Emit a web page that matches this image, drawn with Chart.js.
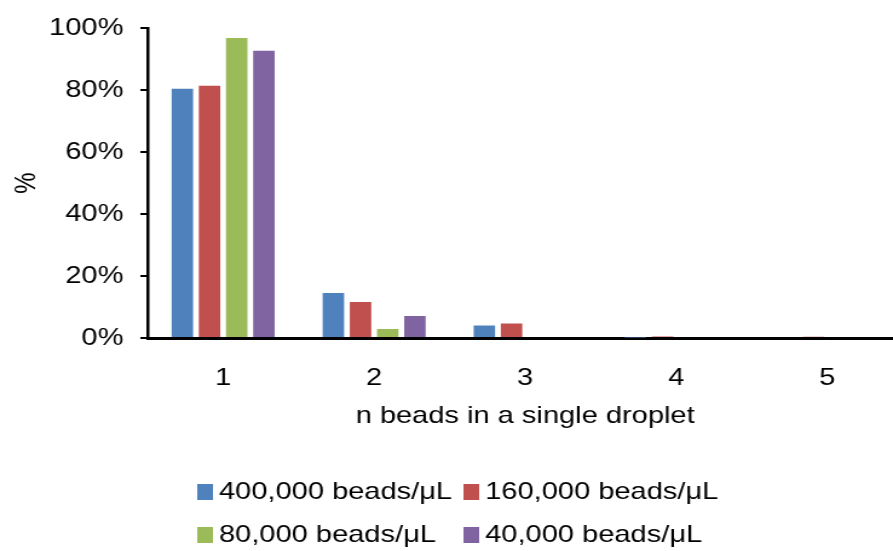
<!DOCTYPE html>
<html>
<head>
<meta charset="utf-8">
<script src="https://cdn.jsdelivr.net/npm/chart.js@4.4.1/dist/chart.umd.min.js"></script>
<style>
  html, body { margin: 0; padding: 0; background: #fff; }
  #wrap { width: 893px; height: 551px; overflow: hidden; position: relative; }
  /* the source picture is stretched sideways, so the canvas is too */
  #chart { position: absolute; left: 0; top: 0; transform: scaleX(1.21); transform-origin: 0 0; }
</style>
</head>
<body>
<div id="wrap"><canvas id="chart" width="746" height="551"></canvas></div>
<script>
const categories = ["1", "2", "3", "4", "5"];
const seriesLabels = ["400,000 beads/μL", "160,000 beads/μL", "80,000 beads/μL", "40,000 beads/μL"];
const seriesColors = ["#4F81BD", "#C0504D", "#9BBB59", "#8064A2"];
const beads400k = [80.5, 14.5, 4.0, 0.2, 0];
const beads160k = [81.5, 11.6, 4.7, 0.5, 0.4];
const beads80k  = [96.9, 2.9, 0, 0, 0];
const beads40k  = [92.8, 7.1, 0, 0, 0];
const yTicks = [0, 20, 40, 60, 80, 100];

const FONT = "'Liberation Sans', Arial, sans-serif";
Chart.defaults.color = "#000";
Chart.defaults.font.family = FONT;
Chart.defaults.font.size = 24;

const seriesValues = [beads400k, beads160k, beads80k, beads40k];

// Excel-style legend: two columns, two rows
const gridLegend = {
  id: "gridLegend",
  afterDraw(chart, args, o) {
    const ctx = chart.ctx;
    ctx.save();
    ctx.font = "24px " + FONT;
    ctx.textBaseline = "middle";
    ctx.textAlign = "left";
    chart.data.datasets.forEach((ds, i) => {
      const x = o.left + (i % 2) * o.colWidth;
      const y = o.top + Math.floor(i / 2) * o.rowHeight;
      ctx.fillStyle = ds.backgroundColor;
      ctx.fillRect(x, y - o.boxH / 2, o.boxW, o.boxH);
      ctx.fillStyle = "#000";
      ctx.fillText(ds.label, x + o.boxW + o.gap, y);
    });
    ctx.restore();
  }
};

new Chart(document.getElementById("chart"), {
  type: "bar",
  data: {
    labels: categories,
    datasets: seriesValues.map((vals, i) => ({
      label: seriesLabels[i],
      data: vals,
      backgroundColor: seriesColors[i],
      borderWidth: 0,
      barPercentage: 0.79,
      categoryPercentage: 0.72
    }))
  },
  options: {
    responsive: false,
    animation: false,
    layout: { padding: { top: 28, left: 0, right: 0, bottom: 120 } },
    plugins: {
      legend: { display: false },
      tooltip: { enabled: false },
      gridLegend: { left: 163, colWidth: 220, top: 492, rowHeight: 43, boxW: 13, boxH: 16, gap: 5 }
    },
    scales: {
      x: {
        afterFit: (s) => { s.height = 93; },
        grid: { display: false, drawTicks: false },
        border: { display: true, color: "#000", width: 3 },
        ticks: { padding: 26, maxRotation: 0 },
        title: { display: true, text: "n beads in a single droplet", padding: { top: 0, bottom: 0 } }
      },
      y: {
        min: 0,
        max: 100,
        afterBuildTicks: (s) => { s.ticks = yTicks.map(v => ({ value: v })); },
        afterFit: (s) => { s.width = 122; },
        grid: { drawOnChartArea: false, drawTicks: true, tickLength: 6, color: "#000", lineWidth: 2 },
        border: { display: true, color: "#000", width: 2.5 },
        ticks: { padding: 14, callback: (v) => v + "%" },
        title: { display: true, text: "%", padding: { top: 8, bottom: 0 } }
      }
    }
  },
  plugins: [gridLegend]
});
</script>
</body>
</html>
